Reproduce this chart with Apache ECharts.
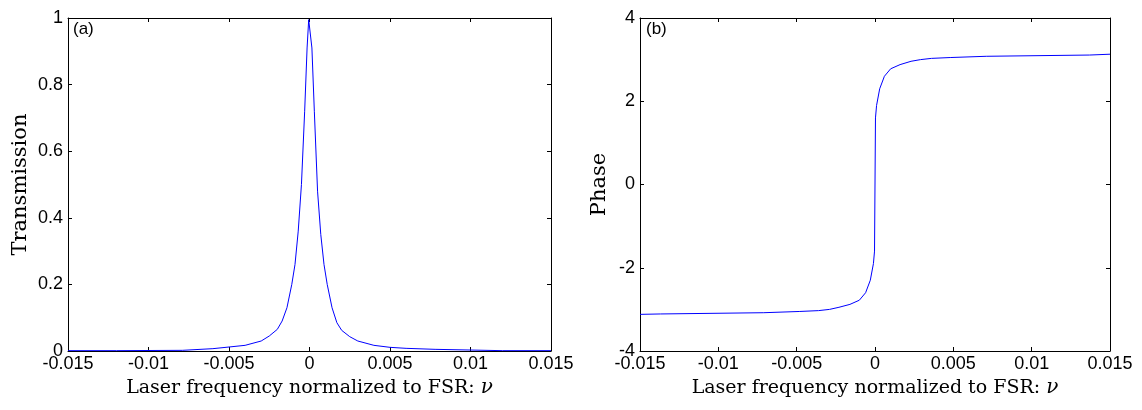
<!DOCTYPE html>
<html>
<head>
    <meta charset="utf-8">
    <title>Transmission and phase</title>
    <script src="https://cdn.jsdelivr.net/npm/echarts@6/dist/echarts.min.js"></script>
    <style>
        body { margin: 0; background: #fff; }
        #c { width: 1142px; height: 410px; }
    </style>
</head>
<body>
    <div id="c"></div>
    <script>
    // frequency ticks (normalized to FSR)
    var xTicks = [-0.015, -0.01, -0.005, 0, 0.005, 0.01, 0.015];

    // (a) transmission
    var transX = [-0.015, -0.012, -0.0079, -0.0078, -0.006, -0.005, -0.004, -0.003, -0.0025, -0.002,
                  -0.0017, -0.0014, -0.0011, -0.0009, -0.0007, -0.0005, -0.0003, -0.00015, -0.00005, 0,
                  0.00005, 0.00015, 0.0003, 0.0005, 0.0007, 0.0009, 0.0011, 0.0014, 0.0017, 0.002,
                  0.0025, 0.003, 0.004, 0.005, 0.006, 0.0078, 0.0079, 0.012, 0.015];
    var transY = [0.001, 0.001, 0.002, 0.004, 0.007, 0.012, 0.017, 0.03, 0.045, 0.065,
                  0.09, 0.13, 0.2, 0.26, 0.36, 0.5, 0.72, 0.91, 0.995, 1.0,
                  0.995, 0.91, 0.72, 0.48, 0.35, 0.26, 0.2, 0.13, 0.085, 0.062,
                  0.043, 0.03, 0.017, 0.011, 0.008, 0.005, 0.001, 0.001, 0.001];

    // (b) phase
    var phaseX = [-0.015, -0.0137, -0.0071, -0.0048, -0.0036, -0.0029, -0.0023, -0.0016, -0.001, -0.0006,
                  -0.0003, -0.0001, -0.00003, 0.00003, 0.0001, 0.0003, 0.0006, 0.001, 0.0016, 0.0023,
                  0.0029, 0.0036, 0.0048, 0.0071, 0.0137, 0.015];
    var phaseY = [-3.12, -3.11, -3.08, -3.05, -3.03, -3.0, -2.95, -2.88, -2.78, -2.6,
                  -2.3, -1.9, -1.6, 1.6, 1.9, 2.3, 2.6, 2.78, 2.88, 2.96,
                  3.0, 3.03, 3.05, 3.08, 3.11, 3.13];

    function pairs(xs, ys) {
        return xs.map(function (x, i) { return [x, ys[i]]; });
    }

    var labelFont = { color: '#000', fontFamily: 'Liberation Sans', fontSize: 18 };
    var nameFont = { color: '#000', fontFamily: 'DejaVu Serif', fontSize: 19 };
    var line = { onZero: false, lineStyle: { color: '#000', width: 1 } };

    function fmtX(v) {
        return String(Math.round(v * 1000) / 1000);
    }

    function xAxes(gi) {
        var base = {
            type: 'value', gridIndex: gi, min: -0.015, max: 0.015, interval: 0.005,
            axisLine: line, splitLine: { show: false },
            axisTick: { inside: true, length: 4, lineStyle: { color: '#000' } }
        };
        return [
            Object.assign({}, base, {
                position: 'bottom',
                axisLabel: Object.assign({ margin: 4, formatter: fmtX }, labelFont),
                name: 'Laser frequency normalized to FSR: {i|ν}',
                nameLocation: 'middle', nameGap: 25,
                nameTextStyle: Object.assign({ rich: { i: { fontStyle: 'italic', fontFamily: 'DejaVu Serif', fontSize: 20, color: '#000' } } }, nameFont)
            }),
            Object.assign({}, base, { position: 'top', axisLabel: { show: false } })
        ];
    }

    function yAxes(gi, min, max, step, title, gap) {
        var base = {
            type: 'value', gridIndex: gi, min: min, max: max, interval: step,
            axisLine: line, splitLine: { show: false },
            axisTick: { inside: true, length: 4, lineStyle: { color: '#000' } }
        };
        return [
            Object.assign({}, base, {
                position: 'left',
                axisLabel: Object.assign({ margin: 5 }, labelFont),
                name: title, nameLocation: 'middle', nameGap: gap,
                nameTextStyle: Object.assign({}, nameFont, { fontSize: 21 })
            }),
            Object.assign({}, base, { position: 'right', axisLabel: { show: false } })
        ];
    }

    var myChart = echarts.init(document.getElementById('c'));
    var option = {
        backgroundColor: '#fff',
        animation: false,
        grid: [
            { left: 68, top: 18, width: 483, height: 333 },
            { left: 640, top: 18, width: 470, height: 333 }
        ],
        xAxis: xAxes(0).concat(xAxes(1)),
        yAxis: yAxes(0, 0, 1, 0.2, 'Transmission', 37).concat(yAxes(1, -4, 4, 2, 'Phase', 30)),
        graphic: [
            { type: 'text', left: 73, top: 21, style: { text: '(a)', fill: '#000', font: '17px "Liberation Sans"' } },
            { type: 'text', left: 646, top: 21, style: { text: '(b)', fill: '#000', font: '17px "Liberation Sans"' } }
        ],
        series: [
            {
                type: 'line', xAxisIndex: 0, yAxisIndex: 0, showSymbol: false,
                lineStyle: { color: '#0000ff', width: 1 },
                data: pairs(transX, transY)
            },
            {
                type: 'line', xAxisIndex: 2, yAxisIndex: 2, showSymbol: false,
                lineStyle: { color: '#0000ff', width: 1 },
                data: pairs(phaseX, phaseY)
            }
        ]
    };
    myChart.setOption(option);
    </script>
</body>
</html>
